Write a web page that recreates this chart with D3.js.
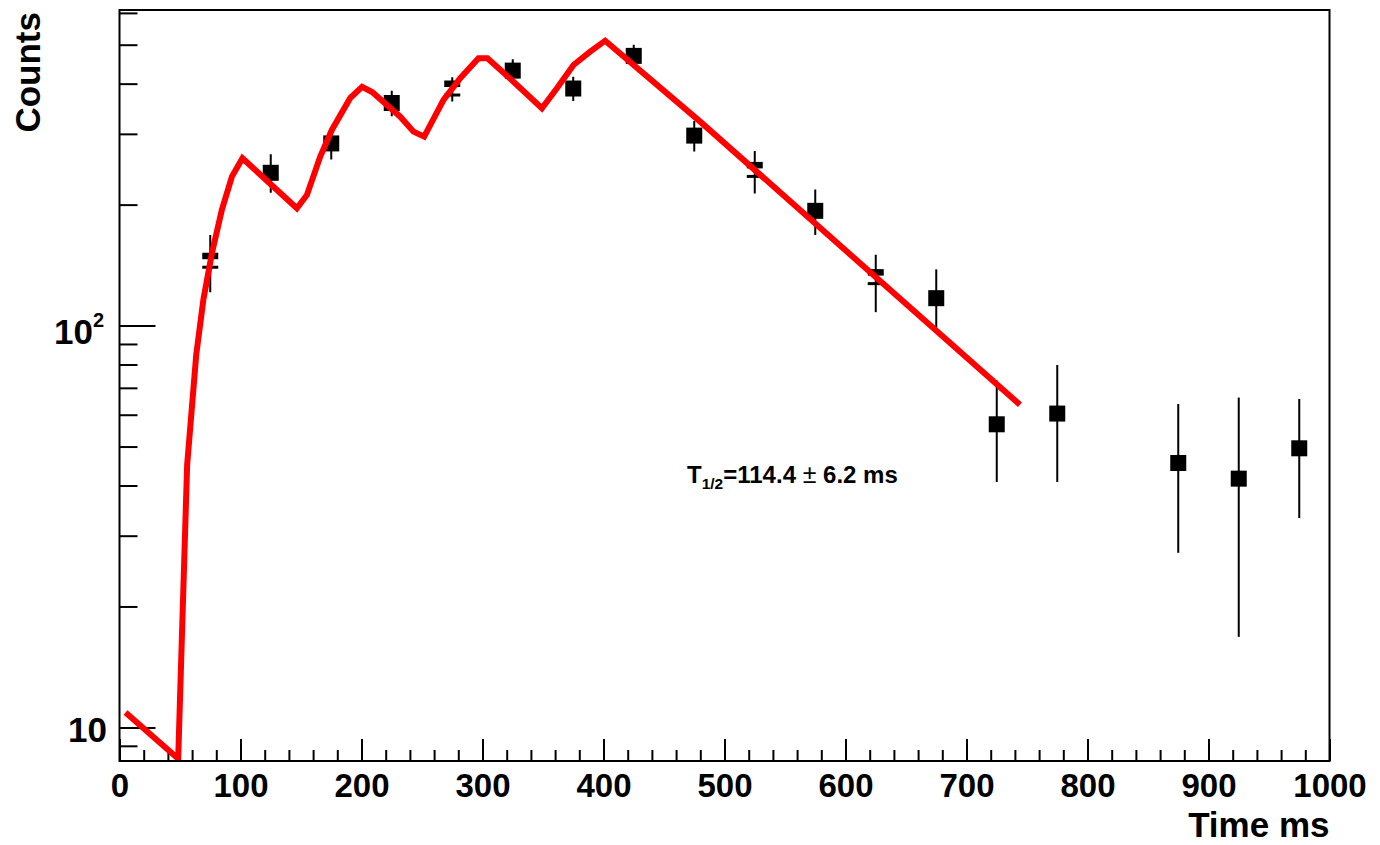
<!DOCTYPE html>
<html>
<head>
<meta charset="utf-8">
<script src="https://cdn.jsdelivr.net/npm/d3@7"></script>
<style>
  html, body { margin: 0; padding: 0; background: #fff; }
  svg { display: block; }
  text { font-family: "Liberation Sans", Arial, Helvetica, sans-serif; }
</style>
</head>
<body>
<svg id="chart" width="1380" height="845"></svg>
<script>
// Decay-time histogram: bin centres (ms), counts and their error bars
const binCenters = [75, 125, 175, 225, 275, 325, 375, 425, 475, 525, 575, 625, 675, 725, 775, 875, 925, 975];
const counts     = [145, 240, 284, 358, 389, 431, 389, 469, 297, 244, 193, 132, 117, 56.8, 60.4, 45.5, 41.6, 49.5];
const errUp      = [168, 267, 309, 384, 415, 460, 416, 500, 323, 272, 218, 150, 138, 73, 79.8, 63.8, 66.2, 65.7];
const errDown    = [121, 214, 259, 332, 361, 402, 362, 438, 271, 213, 168, 108, 99, 40.8, 40.8, 27.2, 16.8, 33.2];
// bins whose marker is drawn with a white gap across it
const splitBins  = [75, 275, 525, 625];

// Fitted growth/decay curve (time ms, counts)
const fitTime   = [5, 48.5, 55.9, 63.4, 69.3, 76.4, 84.6, 92.9, 101.6, 146.6, 154.9, 165.9, 175.5, 190.7, 200.5, 208.8, 232, 243, 251.8, 267.8, 281.6, 296.7, 304.1, 325.6, 349.1, 361.5, 375.2, 389, 401.4, 479.9, 744.2];
const fitCounts = [10.9, 8.36, 45.0, 84.5, 115.9, 151.4, 194.1, 234.8, 260.9, 195.9, 211.4, 263.3, 306.8, 368.5, 392.6, 381.3, 331.1, 303.8, 295.2, 364.3, 412.6, 462.6, 462.6, 404.6, 347.4, 389.5, 445.2, 480.4, 511.6, 321.8, 63.5];

// Axis ticks
const xMajorTicks = [0, 100, 200, 300, 400, 500, 600, 700, 800, 900, 1000];
const yMajorTicks = [10, 100];
const yMinorTicks = [9, 20, 30, 40, 50, 60, 70, 80, 90, 200, 300, 400, 500, 600];

const xTitle = "Time ms";
const yTitle = "Counts";
const halfLife = { value: "114.4", error: "6.2", unit: "ms" };

(function draw() {
  const svg = d3.select("#chart");
  const pL = 119.5, pR = 1329.5, pT = 10, pB = 761;

  const x = d3.scaleLinear().domain([0, 1000]).range([pL, pR]);
  const y = d3.scaleLog().domain([8.25, 610]).range([pB, pT]);

  svg.append("defs").append("clipPath").attr("id", "plotClip")
    .append("rect").attr("x", pL).attr("y", pT)
    .attr("width", pR - pL).attr("height", pB - pT);

  // X axis: major ticks every 100, minor every 20
  const xMinor = d3.range(0, 1001, 20).filter(v => v % 100 !== 0);
  const gx = svg.append("g").attr("transform", `translate(0,${pB})`)
    .call(d3.axisBottom(x).tickValues(xMajorTicks).tickSizeInner(-22).tickSizeOuter(0).tickFormat(d3.format("d")));
  gx.select(".domain").remove();
  gx.selectAll(".tick line").attr("stroke", "#000").attr("stroke-width", 2);
  gx.selectAll(".tick text")
    .attr("y", 36).attr("dy", 0)
    .attr("font-size", 33).attr("font-weight", "bold").attr("fill", "#000")
    .attr("font-family", "Liberation Sans, Arial, sans-serif");
  const gxm = svg.append("g").attr("transform", `translate(0,${pB})`)
    .call(d3.axisBottom(x).tickValues(xMinor).tickSizeInner(-11).tickSizeOuter(0).tickFormat(""));
  gxm.select(".domain").remove();
  gxm.selectAll(".tick line").attr("stroke", "#000").attr("stroke-width", 2);

  // Y axis: log scale, decades labelled
  const gy = svg.append("g").attr("transform", `translate(${pL},0)`)
    .call(d3.axisLeft(y).tickValues(yMajorTicks).tickSizeInner(-36).tickSizeOuter(0).tickFormat(""));
  gy.select(".domain").remove();
  gy.selectAll(".tick line").attr("stroke", "#000").attr("stroke-width", 2);
  const gym = svg.append("g").attr("transform", `translate(${pL},0)`)
    .call(d3.axisLeft(y).tickValues(yMinorTicks).tickSizeInner(-18).tickSizeOuter(0).tickFormat(""));
  gym.select(".domain").remove();
  gym.selectAll(".tick line").attr("stroke", "#000").attr("stroke-width", 2);

  svg.append("text").attr("x", 107).attr("y", y(10) + 15)
    .attr("text-anchor", "end").attr("font-size", 35).attr("font-weight", "bold").text("10");
  const t100 = svg.append("text").attr("x", 104).attr("y", y(100) + 18)
    .attr("text-anchor", "end").attr("font-size", 35).attr("font-weight", "bold");
  t100.append("tspan").text("10");
  t100.append("tspan").attr("dy", -17).attr("font-size", 20).text("2");

  // Axis titles
  svg.append("text").attr("x", pR).attr("y", 837)
    .attr("text-anchor", "end").attr("font-size", 35).attr("font-weight", "bold").text(xTitle);
  svg.append("text").attr("transform", `translate(40,${pT + 2}) rotate(-90)`)
    .attr("text-anchor", "end").attr("font-size", 35).attr("font-weight", "bold").text(yTitle);

  const plot = svg.append("g").attr("clip-path", "url(#plotClip)");

  // Error bars
  plot.selectAll("line.err").data(binCenters).join("line").attr("class", "err")
    .attr("x1", d => x(d)).attr("x2", d => x(d))
    .attr("y1", (d, i) => y(errUp[i])).attr("y2", (d, i) => y(errDown[i]))
    .attr("stroke", "#000").attr("stroke-width", 2);

  // Square markers
  const ms = 16;
  plot.selectAll("rect.mk").data(binCenters).join("rect").attr("class", "mk")
    .attr("x", d => x(d) - ms / 2).attr("y", (d, i) => y(counts[i]) - ms / 2)
    .attr("width", ms).attr("height", ms).attr("fill", "#000");

  // White gap across some markers, with the error bar running through it
  plot.selectAll("g.gap").data(splitBins).join("g").attr("class", "gap")
    .each(function(b) {
      const i = binCenters.indexOf(b);
      const cy = y(counts[i]);
      const g = d3.select(this);
      g.append("rect").attr("x", x(b) - ms / 2 - 1).attr("y", cy - 1.5)
        .attr("width", ms + 2).attr("height", 6.5).attr("fill", "#fff");
      g.append("line").attr("x1", x(b)).attr("x2", x(b))
        .attr("y1", cy - 2).attr("y2", cy + 6).attr("stroke", "#000").attr("stroke-width", 2);
    });

  // Fit curve
  const line = d3.line().x((d, i) => x(fitTime[i])).y((d, i) => y(fitCounts[i]));
  plot.append("path").datum(fitTime).attr("d", line)
    .attr("fill", "none").attr("stroke", "#ff0000").attr("stroke-width", 6)
    .attr("stroke-linejoin", "miter");

  // Frame
  svg.append("rect").attr("x", pL).attr("y", pT)
    .attr("width", pR - pL).attr("height", pB - pT)
    .attr("fill", "none").attr("stroke", "#000").attr("stroke-width", 2);

  // Half-life annotation
  const ann = svg.append("text").attr("x", 687).attr("y", 483)
    .attr("font-size", 24).attr("font-weight", "bold");
  ann.append("tspan").text("T");
  ann.append("tspan").attr("dy", 6).attr("font-size", 15.5).text("1/2");
  ann.append("tspan").attr("dy", -6).text(`=${halfLife.value} `);
  ann.append("tspan").attr("font-weight", "normal").attr("font-size", 25).text("\u00b1");
  ann.append("tspan").text(` ${halfLife.error} ${halfLife.unit}`);
})();
</script>
</body>
</html>
